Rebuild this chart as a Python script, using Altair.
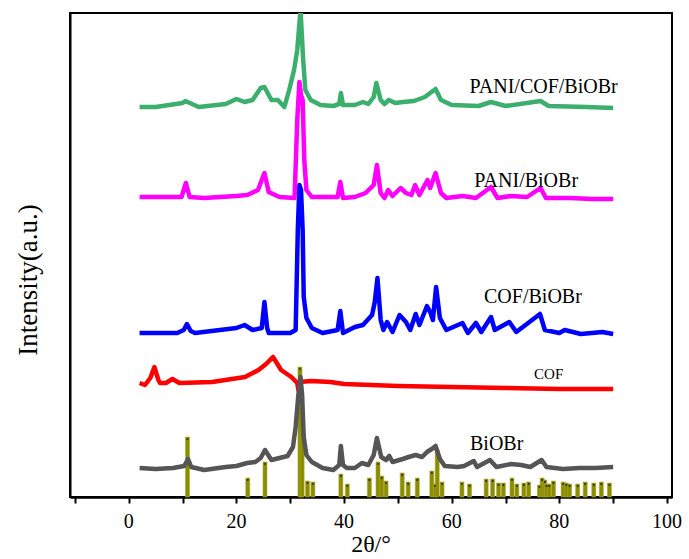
import altair as alt
import pandas as pd

# ---------------- data (2θ in degrees, intensity in arbitrary units) ----------------
biobr_x = [2, 5, 8.2, 10.3, 11, 11.6, 14, 18, 20, 22, 23.5, 24.5, 25.3, 26.5, 28, 29.5, 30.5, 31, 31.5, 31.9,
           32.2, 32.5, 33, 34, 36, 38, 39.1, 39.4, 39.8, 40.5, 42, 43.3, 44.5, 45.5, 46.1, 46.9, 47.8, 48.4,
           49, 50.9, 52, 53.3, 54.5, 55.4, 56.3, 57, 57.8, 58.7, 61.1, 62.3, 64.1, 64.7, 67.1, 68.3, 71, 72.9,
           74.6, 75.8, 76.7, 77.6, 80.7, 83.7, 86.7, 90]
biobr_px = [468, 469, 468, 466, 459, 467, 470, 467, 466, 463, 462, 458, 450, 460, 458, 456, 447, 427, 395, 377,
            395, 437, 455, 462, 468, 470, 465, 446, 465, 468, 468, 463, 465, 455, 438, 457, 460, 456,
            462, 459, 457, 455, 457, 452, 449, 446, 459, 466, 467, 466, 461, 467, 460, 467, 464, 465,
            467, 463, 460, 467, 469, 468, 468, 467]

cof_x = [2, 3, 4, 4.75, 5.5, 5.8, 6.9, 8.1, 9.4, 15.5, 21.6, 24.1, 25.5, 26.8, 28.3, 30.2, 31.3, 31.5, 31.8,
         33.8, 37.5, 40, 50, 60, 70, 80, 90]
cof_px = [383, 385, 378, 367, 380, 383, 383, 379, 383, 382, 377, 370, 364, 357, 370, 377, 383, 390, 382,
          381, 382, 384, 386, 387, 388, 389, 389]

cofb_x = [2, 9, 10.2, 10.8, 11.5, 12.3, 20, 21.5, 23, 24.7, 25.2, 25.7, 26, 30, 31.0, 31.4, 31.7, 32.0, 32.3,
          32.5, 33, 34, 36, 38.8, 39.3, 39.8, 42, 43.5, 45.2, 45.7, 46.2, 46.8, 47.3, 48, 49, 50.3, 51.5,
          52.3, 53.3, 54, 55.4, 56, 56.5, 57.1, 57.8, 59, 62, 63, 64.5, 65.5, 67.3, 68, 70.7, 72, 76.4,
          77.3, 80, 81, 84, 88, 90]
cofb_px = [333, 333, 330, 324, 331, 333, 328, 325, 330, 328, 302, 328, 333, 333, 330, 230, 185, 190, 230,
           297, 318, 328, 333, 330, 311, 333, 327, 325, 315, 302, 278, 320, 330, 322, 332, 315, 322,
           330, 314, 325, 306, 312, 320, 287, 318, 330, 323, 333, 323, 332, 317, 330, 322, 332, 314,
           330, 333, 330, 334, 332, 334]

pani_x = [2, 9.8, 10.6, 11.3, 14, 20, 22, 24, 25.2, 26, 28, 30.8, 31.3, 31.7, 32.0, 32.3, 32.6, 33, 34,
          38.8, 39.3, 39.8, 42, 44, 45.5, 46.1, 46.8, 47.5, 48.2, 49, 50.5, 51.5, 52.5, 53.2, 54, 55.5,
          56, 57, 58, 59, 62, 64.5, 67.3, 68.5, 71, 74, 76.5, 77.5, 82, 86, 90]
pani_px = [197, 197, 183, 197, 198, 196, 195, 190, 173, 192, 197, 198, 120, 82, 95, 100, 160, 190, 197,
           197, 182, 198, 197, 193, 185, 165, 193, 198, 190, 196, 188, 193, 195, 185, 195, 180,
           188, 173, 193, 198, 196, 198, 187, 198, 196, 197, 188, 198, 198, 199, 199]

pcb_x = [2, 5, 10, 10.5, 13, 18, 20, 21.5, 23, 24.5, 25.2, 26.5, 27.7, 28.9, 29.8, 30.7, 31.3, 31.9, 32.4,
         32.8, 33.8, 35.6, 38, 39.1, 39.4, 39.8, 42, 43.5, 44.5, 45.5, 46, 46.8, 47.5, 48.3, 49.5, 51, 53,
         55, 56, 57, 58, 60, 65, 67.3, 70, 76.5, 78, 85, 90]
pcb_px = [107, 107, 103, 101, 107, 104, 99, 102, 100, 88, 87, 100, 100, 107, 90, 70, 50, 10, 60,
          90, 100, 105, 106, 104, 93, 105, 105, 102, 104, 97, 83, 100, 104, 100, 103, 102, 101,
          97, 93, 89, 100, 105, 106, 102, 106, 101, 106, 107, 108]

# reference pattern (stick lines)
ref_x = [10.9, 22.1, 25.3, 31.8, 32.2, 33.2, 34.2, 39.4, 40.6, 44.7, 46.3, 47.0, 47.8, 50.8, 51.9, 53.6,
         56.3, 56.9, 57.3, 58.2, 61.9, 63.3, 66.4, 67.6, 68.7, 69.6, 71.2, 72.1, 73.4, 74.3, 76.3, 76.8,
         77.3, 77.6, 78.1, 78.9, 80.7, 81.3, 81.9, 83.4, 84.8, 86.4, 87.8, 89.3]
ref_px = [437, 478, 462, 367, 433, 481, 482, 474, 484, 478, 462, 476, 481, 473, 482, 478,
          471, 484, 450, 482, 482, 484, 479, 479, 483, 483, 478, 484, 483, 482, 485, 478,
          480, 484, 484, 481, 482, 483, 484, 484, 482, 483, 482, 483]

series_names = ["COF", "BiOBr", "COF/BiOBr", "PANI/BiOBr", "PANI/COF/BiOBr"]
series_x = [cof_x, biobr_x, cofb_x, pani_x, pcb_x]
series_px = [cof_px, biobr_px, cofb_px, pani_px, pcb_px]
series_colors = ["#FF0000", "#555555", "#0000FF", "#FF00FF", "#3CAF6E"]

label_texts = ["PANI/COF/BiOBr", "PANI/BiOBr", "COF/BiOBr", "COF", "BiOBr"]
label_x = [63.3, 64.2, 66.0, 75.3, 63.4]
label_px = [93, 187, 303, 379, 450]
label_size = [20, 20, 20, 15, 20]

x_ticks = [-10, 0, 10, 20, 30, 40, 50, 60, 70, 80, 90, 100]
x_tick_labels = [0, 20, 40, 60, 80, 100]
x_title = "2θ/°"
y_title = "Intensity(a.u.)"

# ---------------- chart ----------------
BOTTOM = 497  # image row of the x axis; intensities measured upward from it


def to_int(px):
    return [BOTTOM - p for p in px]


FONT = "Liberation Serif"
xscale = alt.Scale(domain=[-10, 100], nice=False, zero=False)
yscale = alt.Scale(domain=[0, 484], nice=False, zero=False)

xaxis = alt.Axis(values=x_ticks, labels=False, title=None,
                 tickSize=6, tickWidth=2, tickColor="black",
                 domainColor="black", domainWidth=2.5, grid=False)
yaxis = alt.Axis(title=None, labels=False, ticks=False, grid=False,
                 domainColor="black", domainWidth=2)

X = alt.X("x:Q", scale=xscale, axis=xaxis)
Y = alt.Y("y:Q", scale=yscale, axis=yaxis)

bar_df = pd.DataFrame({"x": ref_x, "y": to_int(ref_px)})
bars = alt.Chart(bar_df).mark_bar(
    width=4, color="#8C8C00", stroke="#A8A830", strokeWidth=0.6
).encode(x=X, y=Y)
bar_dots = alt.Chart(bar_df).mark_square(size=3, color="#222222", opacity=1, yOffset=2).encode(x=X, y=Y)

layers = [bars, bar_dots]
for name, xs, pxs, col in zip(series_names, series_x, series_px, series_colors):
    df = pd.DataFrame({"x": xs, "y": to_int(pxs)})
    layers.append(
        alt.Chart(df).mark_line(color=col, strokeWidth=4.5, clip=True, strokeJoin="round").encode(x=X, y=Y)
    )

lab_df = pd.DataFrame({"t": label_texts, "x": label_x, "y": to_int(label_px), "s": label_size})
labels = alt.Chart(lab_df).mark_text(font=FONT, align="left", baseline="alphabetic", color="black").encode(
    x=X, y=Y, text="t:N",
    size=alt.Size("s:Q", scale=None, legend=None),
)
layers.append(labels)

# tick labels and axis titles drawn as serif text
tick_df = pd.DataFrame({"x": x_tick_labels, "t": [str(v) for v in x_tick_labels]})
tick_labels = alt.Chart(tick_df).mark_text(
    font=FONT, fontSize=20, align="center", baseline="middle", color="black"
).encode(x=X, y=alt.value(509), text="t:N")
layers.append(tick_labels)

xt = alt.Chart(pd.DataFrame({"t": [x_title]})).mark_text(
    font=FONT, fontSize=24, align="center", baseline="middle", color="black"
).encode(x=alt.value(301), y=alt.value(532), text="t:N")
yt = alt.Chart(pd.DataFrame({"t": [y_title]})).mark_text(
    font=FONT, fontSize=27, align="center", baseline="middle", color="black", angle=270
).encode(x=alt.value(-41), y=alt.value(267), text="t:N")
layers += [xt, yt]

chart = alt.layer(*layers).properties(
    width=602, height=484,
    autosize=alt.AutoSizeParams(type="none"),
    padding={"left": 70, "top": 13, "right": 17, "bottom": 62},
    background="white",
).configure(font=FONT).configure_view(stroke="black", strokeWidth=2)

chart.save("out.html", embed_options={"renderer": "svg", "actions": False})
